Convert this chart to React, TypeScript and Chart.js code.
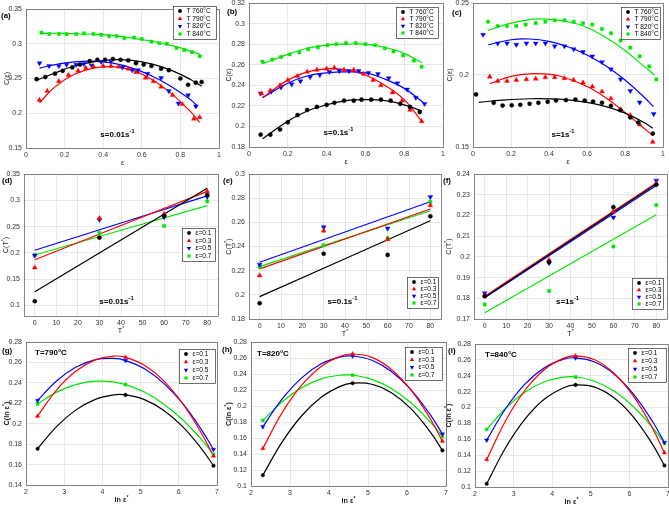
import React, { useEffect, useRef } from "react";
import { Chart, registerables } from "chart.js";
Chart.register(...registerables);

const FONT = "'Liberation Sans', Arial, Helvetica, sans-serif";
const C_BLACK = "#000000";
const C_RED = "#ff0000";
const C_BLUE = "#0000ff";
const C_GREEN = "#00e600";

// ---------- (a) s = 0.01 s^-1 ----------
const A760_X = [0.055, 0.10, 0.15, 0.19, 0.24, 0.28, 0.33, 0.37, 0.41, 0.45, 0.49, 0.53, 0.57, 0.61, 0.65, 0.70, 0.74, 0.80, 0.84, 0.88, 0.91];
const A760_Y = [0.249, 0.252, 0.257, 0.261, 0.266, 0.270, 0.275, 0.277, 0.277, 0.278, 0.277, 0.276, 0.272, 0.270, 0.268, 0.264, 0.262, 0.250, 0.241, 0.244, 0.245];
const A790_X = [0.07, 0.11, 0.17, 0.22, 0.27, 0.31, 0.35, 0.40, 0.44, 0.48, 0.53, 0.57, 0.62, 0.66, 0.70, 0.76, 0.81, 0.87, 0.90];
const A790_Y = [0.219, 0.232, 0.246, 0.255, 0.261, 0.265, 0.267, 0.268, 0.268, 0.267, 0.264, 0.259, 0.251, 0.246, 0.238, 0.226, 0.213, 0.192, 0.194];
const A820_X = [0.07, 0.12, 0.17, 0.21, 0.26, 0.30, 0.34, 0.39, 0.44, 0.50, 0.55, 0.58, 0.63, 0.70, 0.74, 0.79, 0.84, 0.88];
const A820_Y = [0.272, 0.268, 0.268, 0.270, 0.270, 0.271, 0.269, 0.274, 0.275, 0.266, 0.262, 0.262, 0.257, 0.251, 0.232, 0.214, 0.226, 0.210];
const A840_X = [0.08, 0.12, 0.17, 0.21, 0.26, 0.30, 0.35, 0.39, 0.43, 0.47, 0.51, 0.56, 0.60, 0.65, 0.69, 0.73, 0.78, 0.82, 0.86, 0.90];
const A840_Y = [0.316, 0.314, 0.314, 0.314, 0.314, 0.315, 0.314, 0.313, 0.311, 0.311, 0.308, 0.309, 0.307, 0.303, 0.301, 0.300, 0.294, 0.291, 0.288, 0.282];
const A760_FX = [0.06, 0.15, 0.25, 0.35, 0.45, 0.55, 0.65, 0.75, 0.85, 0.91];
const A760_FY = [0.248, 0.258, 0.268, 0.274, 0.277, 0.276, 0.271, 0.262, 0.249, 0.239];
const A790_FX = [0.07, 0.15, 0.25, 0.35, 0.45, 0.55, 0.65, 0.75, 0.85, 0.90];
const A790_FY = [0.215, 0.238, 0.256, 0.265, 0.267, 0.262, 0.249, 0.229, 0.203, 0.187];
const A820_FX = [0.07, 0.15, 0.25, 0.35, 0.45, 0.55, 0.65, 0.75, 0.85, 0.89];
const A820_FY = [0.265, 0.270, 0.274, 0.275, 0.272, 0.265, 0.254, 0.239, 0.220, 0.210];
const A840_FX = [0.08, 0.2, 0.3, 0.4, 0.5, 0.6, 0.7, 0.8, 0.9];
const A840_FY = [0.315, 0.315, 0.314, 0.313, 0.310, 0.306, 0.301, 0.294, 0.285];

// ---------- (b) s = 0.1 s^-1 ----------
const B760_X = [0.06, 0.11, 0.16, 0.20, 0.25, 0.30, 0.35, 0.40, 0.44, 0.49, 0.54, 0.58, 0.63, 0.68, 0.73, 0.78, 0.83, 0.88];
const B760_Y = [0.192, 0.192, 0.197, 0.204, 0.211, 0.216, 0.219, 0.221, 0.223, 0.225, 0.225, 0.226, 0.226, 0.226, 0.225, 0.222, 0.219, 0.214];
const B790_X = [0.064, 0.11, 0.16, 0.20, 0.25, 0.30, 0.35, 0.40, 0.44, 0.49, 0.54, 0.59, 0.64, 0.68, 0.74, 0.79, 0.83, 0.89];
const B790_Y = [0.232, 0.235, 0.240, 0.245, 0.249, 0.253, 0.255, 0.256, 0.257, 0.255, 0.255, 0.251, 0.245, 0.240, 0.233, 0.225, 0.216, 0.205];
const B820_X = [0.06, 0.115, 0.165, 0.22, 0.265, 0.315, 0.365, 0.415, 0.465, 0.515, 0.565, 0.615, 0.665, 0.72, 0.765, 0.815, 0.86, 0.905];
const B820_Y = [0.232, 0.234, 0.238, 0.241, 0.244, 0.248, 0.250, 0.253, 0.254, 0.254, 0.254, 0.252, 0.251, 0.247, 0.242, 0.236, 0.228, 0.222];
const B840_X = [0.07, 0.12, 0.165, 0.21, 0.26, 0.305, 0.355, 0.405, 0.45, 0.5, 0.55, 0.6, 0.65, 0.7, 0.745, 0.795, 0.85, 0.89];
const B840_Y = [0.263, 0.265, 0.2675, 0.270, 0.272, 0.275, 0.277, 0.279, 0.280, 0.281, 0.281, 0.280, 0.279, 0.276, 0.273, 0.269, 0.264, 0.258];
const B760_FX = [0.07, 0.2, 0.3, 0.4, 0.5, 0.6, 0.7, 0.8, 0.89];
const B760_FY = [0.188, 0.205, 0.215, 0.221, 0.225, 0.226, 0.225, 0.221, 0.215];
const B790_FX = [0.07, 0.2, 0.3, 0.4, 0.5, 0.6, 0.7, 0.8, 0.89];
const B790_FY = [0.228, 0.245, 0.253, 0.256, 0.255, 0.250, 0.240, 0.226, 0.205];
const B820_FX = [0.07, 0.2, 0.3, 0.4, 0.5, 0.6, 0.7, 0.8, 0.9];
const B820_FY = [0.228, 0.242, 0.249, 0.252, 0.253, 0.252, 0.246, 0.237, 0.223];
const B840_FX = [0.07, 0.2, 0.3, 0.4, 0.5, 0.6, 0.7, 0.8, 0.89];
const B840_FY = [0.261, 0.270, 0.276, 0.279, 0.280, 0.280, 0.277, 0.271, 0.262];

// ---------- (c) s = 1 s^-1 ----------
const C760_X = [0.016, 0.109, 0.156, 0.204, 0.249, 0.298, 0.344, 0.393, 0.437, 0.489, 0.539, 0.588, 0.632, 0.679, 0.726, 0.775, 0.828, 0.87, 0.946];
const C760_Y = [0.1865, 0.1807, 0.1788, 0.179, 0.1793, 0.180, 0.1807, 0.1814, 0.1823, 0.1826, 0.183, 0.1823, 0.1816, 0.1807, 0.1786, 0.1756, 0.1705, 0.167, 0.1593];
const C790_X = [0.088, 0.13, 0.179, 0.228, 0.281, 0.33, 0.381, 0.43, 0.481, 0.53, 0.579, 0.628, 0.679, 0.726, 0.777, 0.828, 0.877, 0.946];
const C790_Y = [0.1988, 0.1958, 0.1958, 0.1965, 0.197, 0.1974, 0.1984, 0.1984, 0.1977, 0.1965, 0.1947, 0.1919, 0.1884, 0.1837, 0.176, 0.172, 0.1656, 0.1535];
const C820_X = [0.053, 0.13, 0.179, 0.228, 0.281, 0.33, 0.381, 0.43, 0.481, 0.53, 0.579, 0.628, 0.679, 0.726, 0.777, 0.828, 0.877, 0.951];
const C820_Y = [0.228, 0.222, 0.222, 0.221, 0.222, 0.222, 0.222, 0.220, 0.220, 0.218, 0.216, 0.213, 0.209, 0.204, 0.197, 0.189, 0.181, 0.173];
const C840_X = [0.079, 0.13, 0.179, 0.228, 0.277, 0.33, 0.381, 0.43, 0.481, 0.53, 0.579, 0.628, 0.679, 0.726, 0.777, 0.828, 0.877, 0.928, 0.965];
const C840_Y = [0.237, 0.234, 0.234, 0.234, 0.235, 0.236, 0.237, 0.238, 0.238, 0.237, 0.236, 0.235, 0.232, 0.229, 0.224, 0.219, 0.213, 0.206, 0.197];
const C760_FX = [0.03, 0.15, 0.3, 0.45, 0.6, 0.7, 0.8, 0.9, 0.946];
const C760_FY = [0.181, 0.1825, 0.1835, 0.1832, 0.181, 0.178, 0.1735, 0.167, 0.163];
const C790_FX = [0.088, 0.2, 0.32, 0.45, 0.6, 0.7, 0.8, 0.9, 0.946];
const C790_FY = [0.194, 0.199, 0.201, 0.1995, 0.192, 0.184, 0.174, 0.163, 0.158];
const C820_FX = [0.08, 0.2, 0.3, 0.4, 0.5, 0.6, 0.7, 0.8, 0.9, 0.95];
const C820_FY = [0.221, 0.2245, 0.225, 0.2233, 0.2196, 0.2139, 0.2062, 0.1965, 0.1847, 0.178];
const C840_FX = [0.08, 0.2, 0.35, 0.5, 0.6, 0.7, 0.8, 0.9, 0.956];
const C840_FY = [0.231, 0.236, 0.239, 0.237, 0.233, 0.226, 0.217, 0.206, 0.200];

// ---------- (d)(e)(f) C(T*) ----------
const T_STAR = [0, 30, 60, 80];
const T_FIT = [0, 80];
const D_E01 = [0.108, 0.229, 0.270, 0.310];
const D_E03 = [0.172, 0.266, 0.274, 0.317];
const D_E05 = [0.195, 0.263, 0.268, 0.307];
const D_E07 = [0.196, 0.238, 0.251, 0.298];
const D_F01 = [0.126, 0.323];
const D_F03 = [0.187, 0.317];
const D_F05 = [0.205, 0.3085];
const D_F07 = [0.196, 0.290];
const E_E01 = [0.193, 0.234, 0.233, 0.265];
const E_E03 = [0.216, 0.253, 0.246, 0.274];
const E_E05 = [0.225, 0.256, 0.255, 0.281];
const E_E07 = [0.223, 0.241, 0.247, 0.277];
const E_F01 = [0.1985, 0.2613];
const E_F03 = [0.2215, 0.271];
const E_F05 = [0.227, 0.277];
const E_F07 = [0.2234, 0.2696];
const F_E01 = [0.181, 0.1975, 0.224, 0.2348];
const F_E03 = [0.1815, 0.1985, 0.222, 0.2355];
const F_E05 = [0.1825, 0.197, 0.219, 0.2368];
const F_E07 = [0.177, 0.1835, 0.205, 0.225];
const F_F01 = [0.1805, 0.2352];
const F_F03 = [0.181, 0.2357];
const F_F05 = [0.1802, 0.2345];
const F_F07 = [0.173, 0.2203];

// ---------- (g)(h)(i) C(ln eps*) ----------
const LN_EPS = [2.303, 4.605, 6.908];
const LN_FIT = [2.303, 2.8, 3.3, 3.8, 4.3, 4.605, 5.1, 5.6, 6.1, 6.6, 6.908];
const G_E01 = [0.1755, 0.2282, 0.1589];
const G_E03 = [0.2074, 0.265, 0.1683];
const G_E05 = [0.2227, 0.2618, 0.1748];
const G_E07 = [0.2194, 0.2383, 0.170];
const G_F01 = [0.1755, 0.1972, 0.2133, 0.2236, 0.2282, 0.2282, 0.2236, 0.2132, 0.1971, 0.1752, 0.1589];
const G_F03 = [0.2074, 0.2329, 0.2513, 0.2623, 0.2662, 0.265, 0.2572, 0.2422, 0.2198, 0.1902, 0.1683];
const G_F05 = [0.2227, 0.2418, 0.2552, 0.2625, 0.2639, 0.2618, 0.2538, 0.2397, 0.2198, 0.1938, 0.1748];
const G_F07 = [0.2194, 0.2309, 0.2383, 0.2416, 0.2408, 0.2383, 0.231, 0.2194, 0.2039, 0.1842, 0.170];
const H_E01 = [0.1135, 0.2285, 0.1445];
const H_E03 = [0.147, 0.265, 0.156];
const H_E05 = [0.174, 0.2625, 0.165];
const H_E07 = [0.182, 0.2385, 0.162];
const H_F01 = [0.1135, 0.1551, 0.1878, 0.2109, 0.2248, 0.2285, 0.2272, 0.2166, 0.1967, 0.1673, 0.1445];
const H_F03 = [0.147, 0.1917, 0.226, 0.2495, 0.2624, 0.265, 0.2608, 0.2457, 0.2201, 0.1838, 0.156];
const H_F05 = [0.174, 0.2088, 0.2352, 0.2527, 0.2615, 0.2625, 0.2572, 0.2432, 0.2204, 0.1888, 0.165];
const H_F07 = [0.182, 0.2054, 0.2229, 0.2339, 0.2386, 0.2385, 0.2332, 0.2218, 0.204, 0.1799, 0.162];
const I_E01 = [0.104, 0.2285, 0.127];
const I_E03 = [0.1345, 0.265, 0.143];
const I_E05 = [0.159, 0.2625, 0.156];
const I_E07 = [0.1725, 0.2385, 0.155];
const I_F01 = [0.104, 0.15, 0.1857, 0.2107, 0.225, 0.2285, 0.2258, 0.2124, 0.1884, 0.1537, 0.127];
const I_F03 = [0.1345, 0.1841, 0.2221, 0.248, 0.2622, 0.265, 0.2601, 0.2432, 0.2146, 0.174, 0.143];
const I_F05 = [0.159, 0.1991, 0.2297, 0.2501, 0.2609, 0.2625, 0.2573, 0.2423, 0.2173, 0.1824, 0.156];
const I_F07 = [0.1725, 0.1994, 0.2195, 0.2324, 0.2384, 0.2385, 0.2331, 0.2207, 0.2013, 0.1748, 0.155];

// ---------- ticks & labels ----------
const EPS_TICKS = [0, 0.2, 0.4, 0.6, 0.8, 1];
const T_TICKS = [0, 10, 20, 30, 40, 50, 60, 70, 80];
const LN_TICKS = [2, 3, 4, 5, 6, 7];
const YA_TICKS = [0.15, 0.2, 0.25, 0.3, 0.35];
const YB_TICKS = [0.18, 0.2, 0.22, 0.24, 0.26, 0.28, 0.3, 0.32];
const YC_TICKS = [0.15, 0.2, 0.25];
const YD_TICKS = [0.1, 0.15, 0.2, 0.25, 0.3, 0.35];
const YE_TICKS = [0.18, 0.2, 0.22, 0.24, 0.26, 0.28, 0.3];
const YF_TICKS = [0.17, 0.18, 0.19, 0.2, 0.21, 0.22, 0.23, 0.24];
const YG_TICKS = [0.14, 0.16, 0.18, 0.2, 0.22, 0.24, 0.26, 0.28];
const YH_TICKS = [0.1, 0.12, 0.14, 0.16, 0.18, 0.2, 0.22, 0.24, 0.26, 0.28];
const TEMP_LABELS = ["T 760°C", "T 790°C", "T 820°C", "T 840°C"];
const EPS_LABELS = ["ε=0.1", "ε=0.3", "ε=0.5", "ε=0.7"];
const COLORS = [C_BLACK, C_RED, C_BLUE, C_GREEN];
const STYLES = ["circle", "triangle", "triDown", "rect"];

const PAD_L = 34, PAD_R = 8, PAD_T = 14, PAD_B = 26;

type Txt = [string, boolean][];
type Series = { x: number[]; y: number[]; fx: number[]; fy: number[] };

function mk(xs: number[][], ys: number[][], fxs: number[][], fys: number[][]): Series[] {
  return ys.map((y, i) => ({ x: xs[i], y, fx: fxs[i], fy: fys[i] }));
}

type Panel = {
  id: string;
  rect: [number, number, number, number];
  xr: [number, number]; xt: number[];
  yr: [number, number]; yt: number[];
  series: Series[];
  labels: string[];
  legend: [number, number, number, number];
  tag: [number, number];
  note: { parts: Txt; x: number; y: number; align: "left" | "center" };
  yTitle: Txt; yTitleX: number; xTitle: Txt; boldTitle: boolean; small: boolean;
};

const NOTE001: Txt = [["s=0.01s", false], ["-1", true]];
const NOTE01: Txt = [["s=0.1s", false], ["-1", true]];
const NOTE1: Txt = [["s=1s", false], ["-1", true]];
const YT_EPS: Txt = [["C(ε)", false]];
const XT_EPS: Txt = [["ε", false]];
const YT_T: Txt = [["C(T", false], ["*", true], [")", false]];
const XT_T: Txt = [["T", false], ["*", true]];
const YT_LN: Txt = [["C(ln ε", false], ["*", true], [")", false]];
const XT_LN: Txt = [["ln ε", false], ["*", true]];

const PANELS: Panel[] = [
  { id: "(a)", rect: [26, 9, 219, 148], xr: [0, 1], xt: EPS_TICKS, yr: [0.15, 0.35], yt: YA_TICKS,
    series: mk([A760_X, A790_X, A820_X, A840_X], [A760_Y, A790_Y, A820_Y, A840_Y], [A760_FX, A790_FX, A820_FX, A840_FX], [A760_FY, A790_FY, A820_FY, A840_FY]),
    labels: TEMP_LABELS, legend: [173, 6, 216, 39], tag: [1, 16], note: { parts: NOTE001, x: 117.5, y: 135, align: "center" },
    yTitle: YT_EPS, yTitleX: 7, xTitle: XT_EPS, boldTitle: false, small: false },
  { id: "(b)", rect: [249, 3, 443, 147], xr: [0, 1], xt: EPS_TICKS, yr: [0.18, 0.32], yt: YB_TICKS,
    series: mk([B760_X, B790_X, B820_X, B840_X], [B760_Y, B790_Y, B820_Y, B840_Y], [B760_FX, B790_FX, B820_FX, B840_FX], [B760_FY, B790_FY, B820_FY, B840_FY]),
    labels: TEMP_LABELS, legend: [396, 7, 438, 38], tag: [227, 12], note: { parts: NOTE01, x: 338.5, y: 133, align: "center" },
    yTitle: YT_EPS, yTitleX: 229, xTitle: XT_EPS, boldTitle: false, small: false },
  { id: "(c)", rect: [473, 3, 663, 147], xr: [0, 1], xt: EPS_TICKS, yr: [0.15, 0.25], yt: YC_TICKS,
    series: mk([C760_X, C790_X, C820_X, C840_X], [C760_Y, C790_Y, C820_Y, C840_Y], [C760_FX, C790_FX, C820_FX, C840_FX], [C760_FY, C790_FY, C820_FY, C840_FY]),
    labels: TEMP_LABELS, legend: [621, 7, 660, 39], tag: [452, 13], note: { parts: NOTE1, x: 563, y: 135, align: "center" },
    yTitle: YT_EPS, yTitleX: 450, xTitle: XT_EPS, boldTitle: false, small: false },
  { id: "(d)", rect: [24, 174, 218, 316], xr: [-5, 85], xt: T_TICKS, yr: [0.08, 0.35], yt: YD_TICKS,
    series: mk([T_STAR, T_STAR, T_STAR, T_STAR], [D_E01, D_E03, D_E05, D_E07], [T_FIT, T_FIT, T_FIT, T_FIT], [D_F01, D_F03, D_F05, D_F07]),
    labels: EPS_LABELS, legend: [182, 228, 215, 261], tag: [2, 181], note: { parts: NOTE001, x: 116.5, y: 302, align: "center" },
    yTitle: YT_T, yTitleX: 6, xTitle: XT_T, boldTitle: false, small: false },
  { id: "(e)", rect: [249, 174, 441, 319], xr: [-5, 85], xt: T_TICKS, yr: [0.18, 0.3], yt: YE_TICKS,
    series: mk([T_STAR, T_STAR, T_STAR, T_STAR], [E_E01, E_E03, E_E05, E_E07], [T_FIT, T_FIT, T_FIT, T_FIT], [E_F01, E_F03, E_F05, E_F07]),
    labels: EPS_LABELS, legend: [407, 277, 438, 308], tag: [223, 181], note: { parts: NOTE01, x: 342.5, y: 302, align: "center" },
    yTitle: YT_T, yTitleX: 229, xTitle: XT_T, boldTitle: false, small: false },
  { id: "(f)", rect: [474, 174, 667, 319], xr: [-5, 85], xt: T_TICKS, yr: [0.17, 0.24], yt: YF_TICKS,
    series: mk([T_STAR, T_STAR, T_STAR, T_STAR], [F_E01, F_E03, F_E05, F_E07], [T_FIT, T_FIT, T_FIT, T_FIT], [F_F01, F_F03, F_F05, F_F07]),
    labels: EPS_LABELS, legend: [632, 278, 663, 309], tag: [443, 181], note: { parts: NOTE1, x: 567.5, y: 302, align: "center" },
    yTitle: YT_T, yTitleX: 449, xTitle: XT_T, boldTitle: false, small: false },
  { id: "(g)", rect: [26, 342, 217, 485], xr: [2, 7], xt: LN_TICKS, yr: [0.14, 0.28], yt: YG_TICKS,
    series: mk([LN_EPS, LN_EPS, LN_EPS, LN_EPS], [G_E01, G_E03, G_E05, G_E07], [LN_FIT, LN_FIT, LN_FIT, LN_FIT], [G_F01, G_F03, G_F05, G_F07]),
    labels: EPS_LABELS, legend: [179, 349, 215, 383], tag: [2, 351], note: { parts: [["T=790°C", false]], x: 35, y: 353, align: "left" },
    yTitle: YT_LN, yTitleX: 7, xTitle: XT_LN, boldTitle: true, small: true },
  { id: "(h)", rect: [251, 342, 446, 486], xr: [2, 7], xt: LN_TICKS, yr: [0.1, 0.28], yt: YH_TICKS,
    series: mk([LN_EPS, LN_EPS, LN_EPS, LN_EPS], [H_E01, H_E03, H_E05, H_E07], [LN_FIT, LN_FIT, LN_FIT, LN_FIT], [H_F01, H_F03, H_F05, H_F07]),
    labels: EPS_LABELS, legend: [405, 347, 442, 380], tag: [222, 350], note: { parts: [["T=820°C", false]], x: 257, y: 354, align: "left" },
    yTitle: YT_LN, yTitleX: 229, xTitle: XT_LN, boldTitle: true, small: true },
  { id: "(i)", rect: [475, 344, 668, 487], xr: [2, 7], xt: LN_TICKS, yr: [0.1, 0.28], yt: YH_TICKS,
    series: mk([LN_EPS, LN_EPS, LN_EPS, LN_EPS], [I_E01, I_E03, I_E05, I_E07], [LN_FIT, LN_FIT, LN_FIT, LN_FIT], [I_F01, I_F03, I_F05, I_F07]),
    labels: EPS_LABELS, legend: [628, 348, 666, 382], tag: [448, 351], note: { parts: [["T=840°C", false]], x: 485, y: 355, align: "left" },
    yTitle: YT_LN, yTitleX: 449, xTitle: XT_LN, boldTitle: true, small: true },
];

function drawRich(ctx: CanvasRenderingContext2D, parts: Txt, x: number, y: number, size: number, bold: boolean, align: "left" | "center", color = "#000") {
  const base = `${bold ? "bold " : ""}${size}px ${FONT}`;
  const supF = `${bold ? "bold " : ""}${(size * 0.72).toFixed(2)}px ${FONT}`;
  let total = 0;
  const widths = parts.map(([t, sup]) => {
    ctx.font = sup ? supF : base;
    const w = ctx.measureText(t).width;
    total += w;
    return w;
  });
  let cx = align === "center" ? x - total / 2 : x;
  ctx.fillStyle = color;
  ctx.textBaseline = "middle";
  ctx.textAlign = "left";
  parts.forEach(([t, sup], i) => {
    ctx.font = sup ? supF : base;
    ctx.fillText(t, cx, sup ? y - size * 0.4 : y);
    cx += widths[i];
  });
}

function drawMarker(ctx: CanvasRenderingContext2D, style: string, x: number, y: number, r: number, color: string) {
  ctx.fillStyle = color;
  ctx.beginPath();
  if (style === "circle") {
    ctx.arc(x, y, r, 0, Math.PI * 2);
  } else if (style === "rect") {
    const s = r * Math.SQRT1_2;
    ctx.rect(x - s, y - s, 2 * s, 2 * s);
  } else {
    const d = style === "triDown" ? -1 : 1;
    const sx = r * Math.sin(Math.PI / 3);
    ctx.moveTo(x, y - d * r);
    ctx.lineTo(x - sx, y + d * r * 0.5);
    ctx.lineTo(x + sx, y + d * r * 0.5);
    ctx.closePath();
  }
  ctx.fill();
}

const fmt = (v: number | string) => String(Math.round(Number(v) * 10000) / 10000);

function PanelChart({ p }: { p: Panel }) {
  const ref = useRef<HTMLCanvasElement>(null);
  const [L, T, R, B] = p.rect;
  const ox = L - PAD_L, oy = T - PAD_T;
  const w = R - L + PAD_L + PAD_R, h = B - T + PAD_T + PAD_B;

  useEffect(() => {
    if (!ref.current) return;
    const rad = p.small ? { circle: 1.8, triangle: 2.5, triDown: 2.5, rect: 2.1 } : { circle: 2.1, triangle: 2.8, triDown: 2.8, rect: 2.3 };
    const pointSets = p.series.map((s, i) => ({
      data: s.x.map((x, k) => ({ x, y: s.y[k] })),
      showLine: false,
      pointStyle: STYLES[i] === "triDown" ? "triangle" : STYLES[i],
      rotation: STYLES[i] === "triDown" ? 180 : 0,
      pointRadius: (rad as any)[STYLES[i]],
      pointBackgroundColor: COLORS[i],
      pointBorderColor: COLORS[i],
      pointBorderWidth: 0.4,
      clip: false,
    }));
    const fitSets = p.series.map((s, i) => ({
      data: s.fx.map((x, k) => ({ x, y: s.fy[k] })),
      showLine: true,
      borderColor: COLORS[i],
      backgroundColor: COLORS[i],
      borderWidth: 1.2,
      pointRadius: 0,
      tension: 0.4,
      fill: false,
      clip: false,
    }));

    const deco = {
      id: "deco",
      beforeDatasetsDraw(chart: any) {
        const { ctx, chartArea: a } = chart;
        ctx.save();
        ctx.strokeStyle = "#6a6a6a";
        ctx.lineWidth = 0.8;
        ctx.strokeRect(Math.round(a.left) + 0.5, Math.round(a.top) + 0.5, Math.round(a.right - a.left), Math.round(a.bottom - a.top));
        ctx.restore();
      },
      afterDatasetsDraw(chart: any) {
        const ctx: CanvasRenderingContext2D = chart.ctx;
        ctx.save();
        const [x0, y0, x1, y1] = p.legend;
        const lx = x0 - ox, ly = y0 - oy, lw = x1 - x0, lh = y1 - y0;
        ctx.fillStyle = "#ffffff";
        ctx.fillRect(lx, ly, lw, lh);
        ctx.strokeStyle = "#333333";
        ctx.lineWidth = 0.7;
        ctx.strokeRect(Math.round(lx) + 0.5, Math.round(ly) + 0.5, Math.round(lw), Math.round(lh));
        p.labels.forEach((lab, i) => {
          const cy = ly + 5 + i * ((lh - 10) / 3);
          drawMarker(ctx, STYLES[i], lx + 7, cy, STYLES[i] === "rect" ? 2.2 : STYLES[i] === "circle" ? 1.9 : 2.5, COLORS[i]);
          ctx.font = `6.6px ${FONT}`;
          ctx.fillStyle = "#000";
          ctx.textAlign = "left";
          ctx.textBaseline = "middle";
          ctx.fillText(lab, lx + 13.5, cy + 0.3);
        });
        ctx.restore();
      },
      afterDraw(chart: any) {
        const ctx: CanvasRenderingContext2D = chart.ctx;
        const a = chart.chartArea;
        ctx.save();
        // panel tag
        drawRich(ctx, [[p.id, false]], p.tag[0] - ox, p.tag[1] - oy, 8, true, "left", "#000");
        // annotation
        drawRich(ctx, p.note.parts, p.note.x - ox, p.note.y - oy, 8, true, p.note.align, "#000");
        // x title
        drawRich(ctx, p.xTitle, (a.left + a.right) / 2, a.bottom + 15.5, 7.2, p.boldTitle, "center", "#222");
        // y title
        ctx.translate(p.yTitleX - ox, (a.top + a.bottom) / 2);
        ctx.rotate(-Math.PI / 2);
        drawRich(ctx, p.yTitle, 0, 0, 7.2, p.boldTitle, "center", "#222");
        ctx.restore();
      },
    };

    const tickFont = { family: FONT, size: 7 };
    const chart = new Chart(ref.current, {
      type: "scatter",
      data: { datasets: [...pointSets, ...fitSets] as any },
      options: {
        responsive: false,
        animation: false,
        devicePixelRatio: 1,
        events: [],
        layout: { padding: { left: 0, right: PAD_R, top: PAD_T, bottom: 0 } },
        plugins: { legend: { display: false }, tooltip: { enabled: false } },
        scales: {
          x: {
            type: "linear",
            min: p.xr[0],
            max: p.xr[1],
            afterBuildTicks: (s: any) => { s.ticks = p.xt.map((v) => ({ value: v })); },
            afterFit: (s: any) => { s.height = PAD_B; },
            grid: { color: "#e2e2e2", lineWidth: 0.8, drawTicks: false },
            border: { display: false },
            ticks: { font: tickFont, color: "#333", padding: 3, maxRotation: 0, autoSkip: false, callback: (v: any) => fmt(v) },
          },
          y: {
            type: "linear",
            min: p.yr[0],
            max: p.yr[1],
            afterBuildTicks: (s: any) => { s.ticks = p.yt.map((v) => ({ value: v })); },
            afterFit: (s: any) => { s.width = PAD_L; },
            grid: { color: "#e2e2e2", lineWidth: 0.8, drawTicks: false },
            border: { display: false },
            ticks: { font: tickFont, color: "#333", padding: 4, autoSkip: false, callback: (v: any) => fmt(v) },
          },
        },
      } as any,
      plugins: [deco],
    });
    return () => chart.destroy();
  }, []);

  return (
    <canvas
      ref={ref}
      width={w}
      height={h}
      style={{ position: "absolute", left: ox, top: oy, width: w, height: h }}
    />
  );
}

export default function App() {
  return (
    <div style={{ position: "fixed", left: 0, top: 0, width: 669, height: 508, overflow: "hidden", background: "#ffffff" }}>
      {PANELS.map((p) => (
        <PanelChart key={p.id} p={p} />
      ))}
    </div>
  );
}
